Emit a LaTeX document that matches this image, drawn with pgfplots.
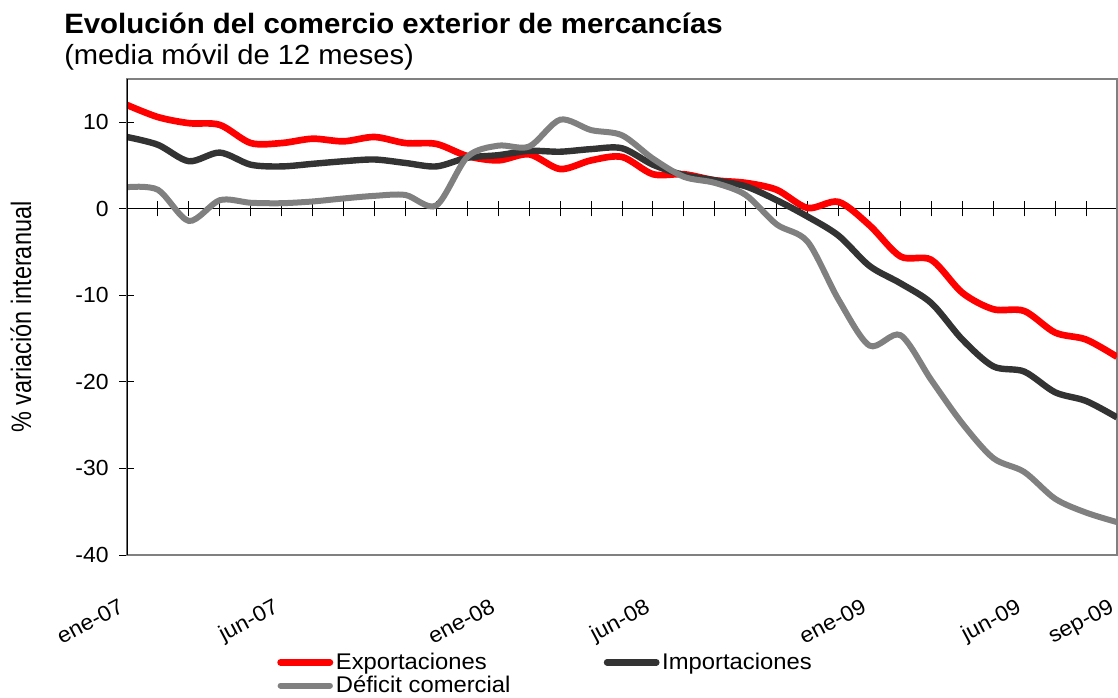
\documentclass[border=0pt]{standalone}
\usepackage{fontspec}
\setmainfont{Liberation Sans}[FakeStretch=1.05]
\newfontfamily\plainfont{Liberation Sans}
\usepackage{graphicx}
\usepackage{pgfplots}
\usepackage{pgfplotstable}
\pgfplotsset{compat=1.18}
\definecolor{cRed}{HTML}{FF0000}
\definecolor{cBlack}{HTML}{333333}
\definecolor{cGray}{HTML}{808080}

\pgfplotstableread{
m exp imp def
0 12.0 8.3 2.5
1 10.6 7.4 2.2
2 9.9 5.5 -1.4
3 9.7 6.5 1.0
4 7.6 5.1 0.7
5 7.6 4.9 0.65
6 8.1 5.2 0.85
7 7.8 5.5 1.2
8 8.3 5.7 1.5
9 7.6 5.3 1.6
10 7.5 4.9 0.4
11 6.1 5.9 6.0
12 5.6 6.2 7.3
13 6.3 6.7 7.2
14 4.6 6.6 10.3
15 5.6 6.9 9.1
16 6.0 7.0 8.5
17 4.0 5.1 5.8
18 4.0 3.9 3.7
19 3.3 3.3 3.0
20 3.0 2.6 1.6
21 2.2 1.0 -1.8
22 0.1 -0.9 -3.8
23 0.8 -3.1 -10.5
24 -1.9 -6.6 -15.8
25 -5.5 -8.6 -14.6
26 -5.9 -10.9 -19.8
27 -9.7 -15.1 -24.8
28 -11.6 -18.2 -28.8
29 -11.8 -18.8 -30.4
30 -14.3 -21.2 -33.5
31 -15.1 -22.2 -35.1
32 -17.1 -24.1 -36.2
}\datatable

\begin{document}
\begin{tikzpicture}
\path[use as bounding box] (0pt,0pt) rectangle (838.5pt,-522.75pt);
\node[anchor=base west, inner sep=0pt, font=\fontsize{21}{25}\selectfont\bfseries] at (48pt,-25pt) {Evolución del comercio exterior de mercancías};
\node[anchor=base west, inner sep=0pt, font=\fontsize{20.8}{25}\selectfont] at (48pt,-48pt) {(media móvil de 12 meses)};
\node[rotate=90, inner sep=0pt] at (15.75pt,-237.75pt) {\scalebox{1}[1.2]{\plainfont\fontsize{17.6}{21}\selectfont \% variación interanual}};

% zero line with monthly ticks
\begin{axis}[at={(95.25pt,-416.25pt)}, anchor=south west, scale only axis,
  width=742.5pt, height=357pt, xmin=0, xmax=32, ymin=-40, ymax=15,
  axis x line=middle, axis y line=none,
  x axis line style={-, black, line width=0.75pt},
  xtick={0,...,32}, xticklabels={}, tick align=center, major tick length=11.25pt,
  xtick style={black, line width=0.75pt}, ytick=\empty]
\end{axis}

\begin{axis}[at={(95.25pt,-416.25pt)}, anchor=south west, scale only axis,
  width=742.5pt, height=357pt, xmin=0, xmax=32, ymin=-40, ymax=15,
  axis line style={draw=cGray, line width=1.6pt},
  xtick={0,5,12,17,24,29,32},
  xticklabels={ene-07,jun-07,ene-08,jun-08,ene-09,jun-09,sep-09},
  xtick style={draw=none},
  ytick={-40,-30,...,10}, ytick pos=left, tick align=center, major tick length=11.25pt,
  ytick style={black, line width=0.75pt},
  tick label style={font=\fontsize{16.4}{19}\selectfont},
  /pgf/number format/assume math mode=true,
  yticklabel style={anchor=east, inner sep=0pt, xshift=-8pt},
  xticklabel style={xshift=-6.75pt, yshift=-26pt, rotate=28, anchor=north east, inner sep=0pt},
  legend columns=2, legend cell align=left,
  legend style={at={(axis description cs:0.1515,-0.200)}, anchor=north west,
    draw=none, fill=none, inner sep=0pt, row sep=-0.5pt,
    font=\fontsize{17}{20}\selectfont,
    /tikz/every even column/.append style={column sep=68pt}},
  legend image code/.code={\draw[#1, line cap=round] (0pt,0pt) -- (37pt,0pt);},
]
\addplot[cRed, line width=5pt, smooth] table[x=m,y=exp]{\datatable};
\addlegendentry{Exportaciones}
\addplot[cBlack, line width=4.8pt, smooth] table[x=m,y=imp]{\datatable};
\addlegendentry{Importaciones}
\addplot[cGray, line width=4.5pt, smooth] table[x=m,y=def]{\datatable};
\addlegendentry{Déficit comercial}
\draw[black, line width=1.1pt] (rel axis cs:0,0) -- (rel axis cs:0,1);
\end{axis}
\end{tikzpicture}
\end{document}
